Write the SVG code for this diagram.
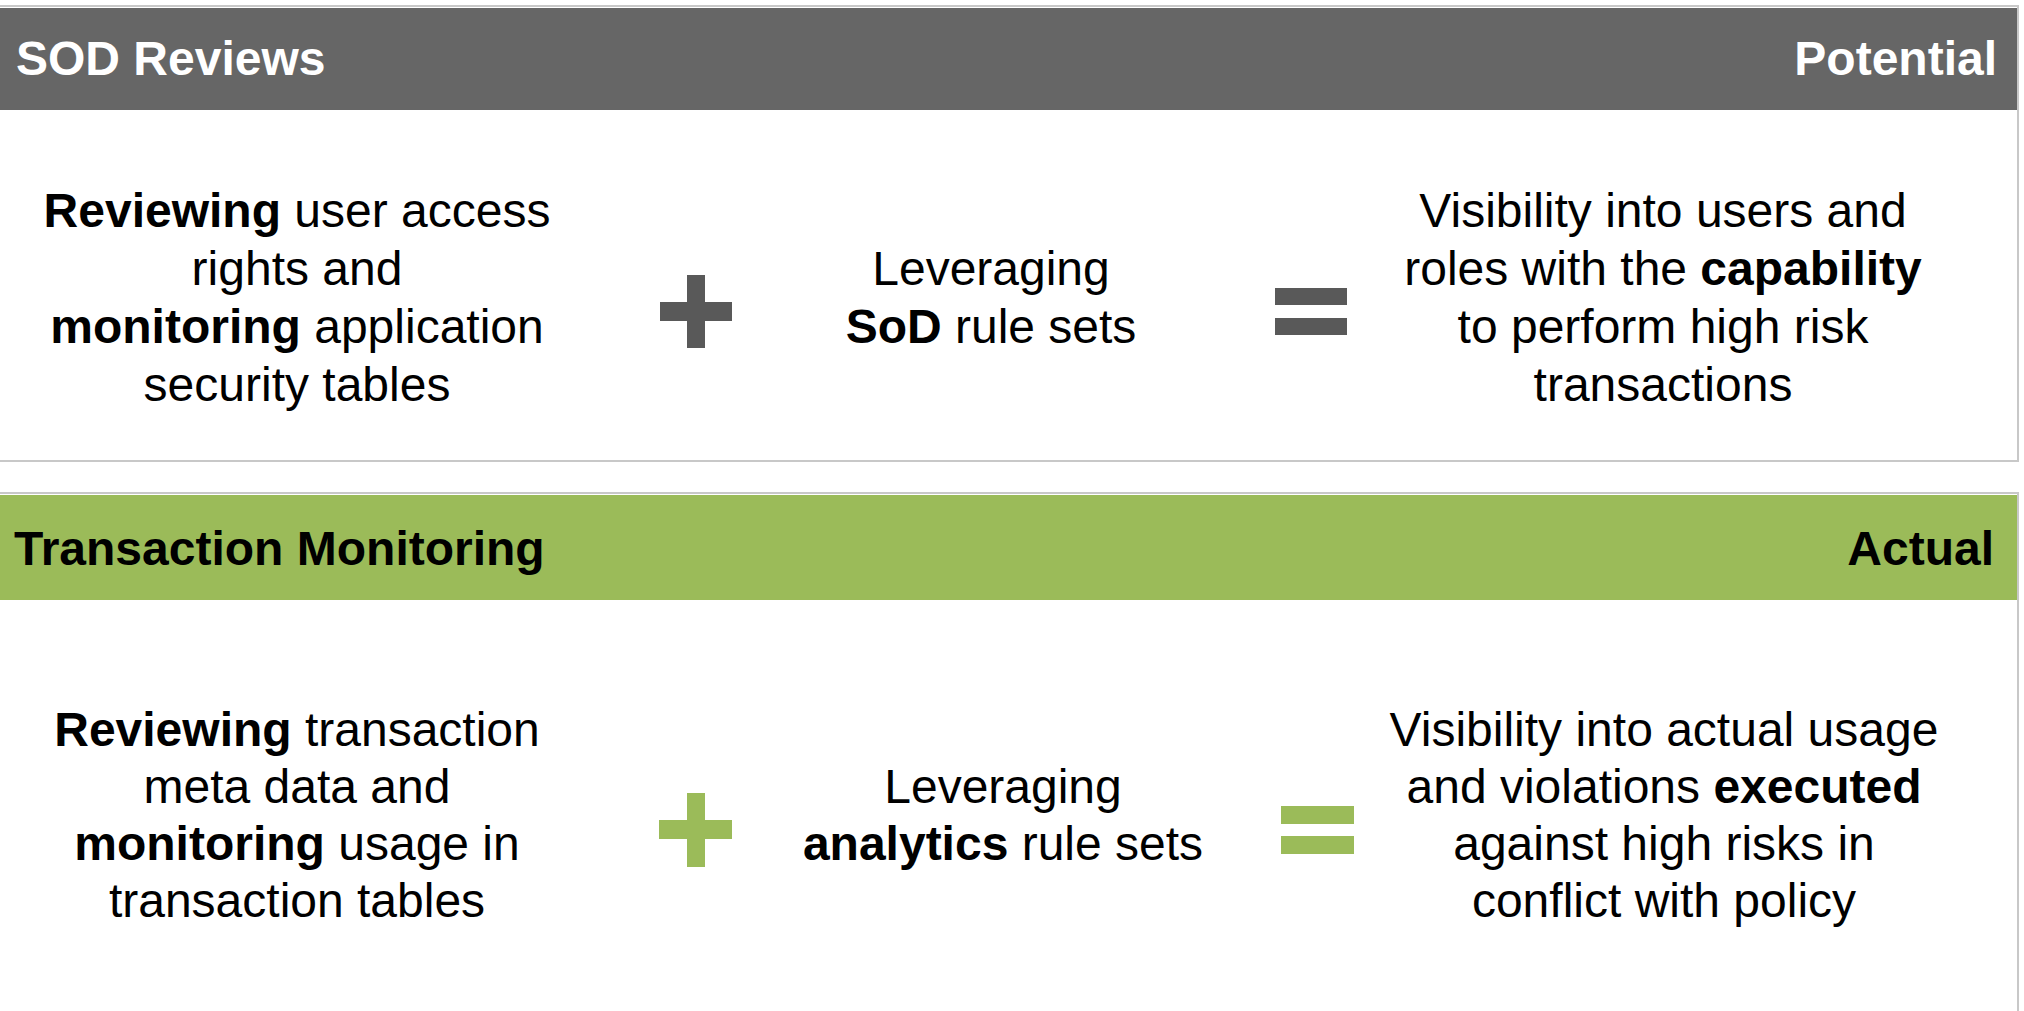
<svg xmlns="http://www.w3.org/2000/svg" width="2024" height="1011" viewBox="0 0 2024 1011">
<style>
text{font-family:"Liberation Sans",Arial,sans-serif;font-size:48px;fill:#000}
.hd{font-weight:bold}
.w{fill:#fff}
.b{font-weight:bold}
.c{text-anchor:middle}
.r{text-anchor:end}
.panel{fill:#fff;stroke:#c8c8c8;stroke-width:2}
.gray{fill:#595959}
.green{fill:#9bbb59}
</style>
<rect width="2024" height="1011" fill="#fff"/>
<g id="panel-sod">
<rect class="panel" x="-2" y="6" width="2020" height="455"/>
<rect x="0" y="8" width="2017" height="102" fill="#666666"/>
<text class="hd w" x="16" y="75">SOD Reviews</text>
<text class="hd w r" x="1997" y="75">Potential</text>
</g>
<g id="panel-tm">
<rect class="panel" x="-2" y="493" width="2020" height="530"/>
<rect x="0" y="495" width="2017" height="105" fill="#9bbb59"/>
<text class="hd" x="14" y="565">Transaction Monitoring</text>
<text class="hd r" x="1994" y="565">Actual</text>
</g>
<g id="sod-left">
<text class="c" x="297" y="227"><tspan class="b">Reviewing</tspan> user access</text>
<text class="c" x="297" y="285">rights and</text>
<text class="c" x="297" y="343"><tspan class="b">monitoring</tspan> application</text>
<text class="c" x="297" y="401">security tables</text>
</g>
<g id="sod-plus">
<rect class="gray" x="687" y="275" width="18" height="73"/>
<rect class="gray" x="660" y="302" width="72" height="19"/>
</g>
<g id="sod-mid">
<text class="c" x="991" y="285">Leveraging</text>
<text class="c" x="991" y="343"><tspan class="b">SoD</tspan> rule sets</text>
</g>
<g id="sod-equals">
<rect class="gray" x="1275" y="288" width="72" height="17"/>
<rect class="gray" x="1275" y="318" width="72" height="17"/>
</g>
<g id="sod-right">
<text class="c" x="1663" y="227">Visibility into users and</text>
<text class="c" x="1663" y="285">roles with the <tspan class="b">capability</tspan></text>
<text class="c" x="1663" y="343">to perform high risk</text>
<text class="c" x="1663" y="401">transactions</text>
</g>
<g id="tm-left">
<text class="c" x="297" y="746"><tspan class="b">Reviewing</tspan> transaction</text>
<text class="c" x="297" y="803">meta data and</text>
<text class="c" x="297" y="860"><tspan class="b">monitoring</tspan> usage in</text>
<text class="c" x="297" y="917">transaction tables</text>
</g>
<g id="tm-plus">
<rect class="green" x="687" y="793" width="18" height="74"/>
<rect class="green" x="659" y="820" width="73" height="19"/>
</g>
<g id="tm-mid">
<text class="c" x="1003" y="803">Leveraging</text>
<text class="c" x="1003" y="860"><tspan class="b">analytics</tspan> rule sets</text>
</g>
<g id="tm-equals">
<rect class="green" x="1281" y="806" width="73" height="18"/>
<rect class="green" x="1281" y="836" width="73" height="18"/>
</g>
<g id="tm-right">
<text class="c" x="1664" y="746">Visibility into actual usage</text>
<text class="c" x="1664" y="803">and violations <tspan class="b">executed</tspan></text>
<text class="c" x="1664" y="860">against high risks in</text>
<text class="c" x="1664" y="917">conflict with policy</text>
</g>
<g id="connectors"></g>
</svg>
